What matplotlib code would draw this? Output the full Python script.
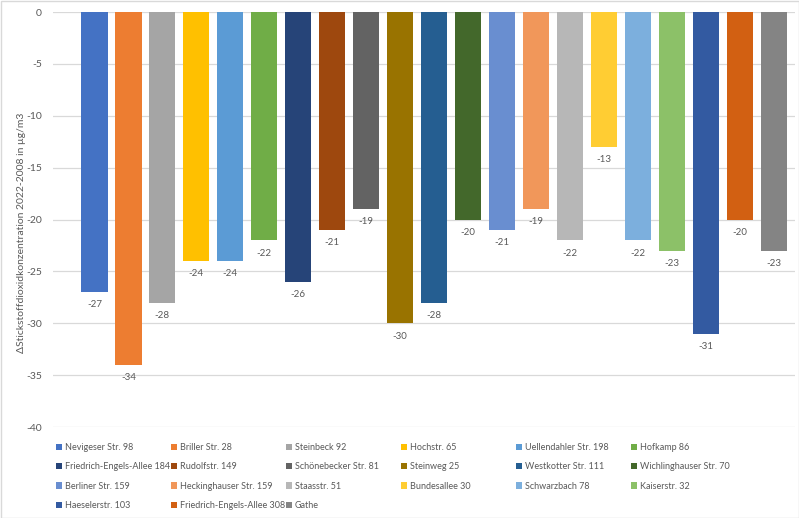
import matplotlib.pyplot as plt
from matplotlib.patches import Rectangle

stations = ["Nevigeser Str. 98", "Briller Str. 28", "Steinbeck 92", "Hochstr. 65",
            "Uellendahler Str. 198", "Hofkamp 86", "Friedrich-Engels-Allee 184",
            "Rudolfstr. 149", "Schönebecker Str. 81", "Steinweg 25", "Westkotter Str. 111",
            "Wichlinghauser Str. 70", "Berliner Str. 159", "Heckinghauser Str. 159",
            "Staasstr. 51", "Bundesallee 30", "Schwarzbach 78", "Kaiserstr. 32",
            "Haeselerstr. 103", "Friedrich-Engels-Allee 308", "Gathe"]
delta_no2 = [-27, -34, -28, -24, -24, -22, -26, -21, -19, -30, -28, -20,
             -21, -19, -22, -13, -22, -23, -31, -20, -23]
colors = ["#4472C4", "#ED7D31", "#A5A5A5", "#FFC000", "#5B9BD5", "#70AD47",
          "#264478", "#9E480E", "#636363", "#997300", "#255E91", "#43682B",
          "#698ED0", "#F1975A", "#B7B7B7", "#FFCD33", "#7CAFDD", "#8CC168",
          "#335AA1", "#D26012", "#848484"]
yticks = [0, -5, -10, -15, -20, -25, -30, -35, -40]

plt.rcParams['font.family'] = ['Lato', 'DejaVu Sans']
grey = "#595959"

fig = plt.figure(figsize=(7.99, 5.18), dpi=100)
ax = fig.add_axes([53/799, 1-427/518, (795-53)/799, (427-12)/518])

bars = []
for i, (name, val, c) in enumerate(zip(stations, delta_no2, colors)):
    b = ax.bar(i, val, width=0.77, color=c, label=name, zorder=2)
    bars.append(b)
    ax.annotate(str(val), (i, val), xytext=(0, -6), textcoords="offset points",
                ha="center", va="top", fontsize=7, color=grey)

ax.set_ylim(-40, 0)
ax.set_xlim(-1.22, 20.62)
ax.set_yticks(yticks)
ax.set_yticklabels([str(t) for t in yticks])
ax.set_xticks([])
ax.grid(axis="y", color="#D9D9D9", linewidth=0.9, zorder=0)
ax.tick_params(axis="y", length=0, labelsize=7.5, labelcolor=grey, pad=8)
for s in ax.spines.values():
    s.set_visible(False)
ax.set_ylabel("ΔStickstoffdioxidkonzentration 2022-2008 in µg/m3", fontsize=7.5,
              color=grey)
ax.yaxis.set_label_coords(-27/742, 0.467)

# legend: row-major, 6 equal-width columns
col_x = [56, 171, 286, 401, 516, 631]
for j in range(6):
    idx = list(range(j, 21, 6))
    fig.legend([bars[k] for k in idx], [stations[k] for k in idx],
               loc="upper left", bbox_to_anchor=(col_x[j]/799, 1-443/518),
               frameon=False, fontsize=6.5, handlelength=0.7, handleheight=0.7,
               handletextpad=0.3, labelspacing=1.15, borderpad=0, borderaxespad=0,
               labelcolor=grey)

fig.patches.append(Rectangle((0.5/799, 0.5/518), 1-1/799, 1-1/518, transform=fig.transFigure,
                             fill=False, edgecolor="#D9D9D9", linewidth=1))
fig.savefig("out.png", dpi=100)
